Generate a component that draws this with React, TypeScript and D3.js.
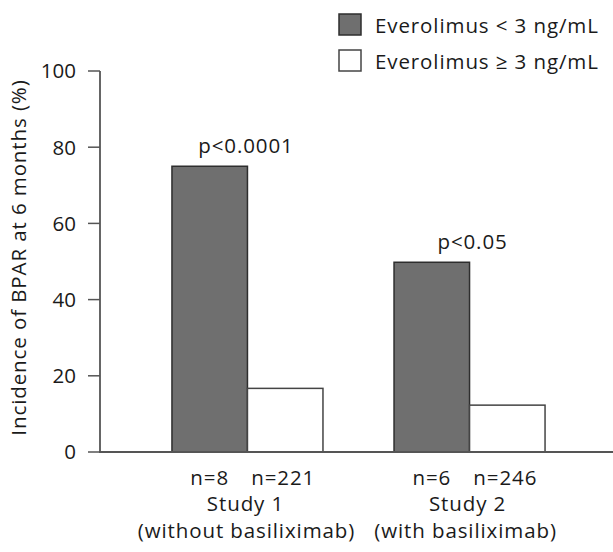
import React from "react";
import * as d3 from "d3";

const studies = ["Study 1", "Study 2"];
const studySub = ["(without basiliximab)", "(with basiliximab)"];
const seriesNames = ["Everolimus < 3 ng/mL", "Everolimus ≥ 3 ng/mL"];
const lowValues = [75, 49.8];
const highValues = [16.7, 12.3];
const nLow = ["n=8", "n=6"];
const nHigh = ["n=221", "n=246"];
const pLabels = ["p<0.0001", "p<0.05"];
const yTicks = [0, 20, 40, 60, 80, 100];

const W = 613;
const H = 552;
const FONT = "'Open Sans', sans-serif";
const FS = 20.5;
const LS = 0.9;
const colors = ["#6f6f6f", "#ffffff"];

export default function App() {
  const y = d3.scaleLinear().domain([0, 100]).range([452, 71]);
  const x0 = d3.scaleBand().domain(studies).range([100, 617]).paddingInner(0.32).paddingOuter(0.324);
  const x1 = d3.scaleBand().domain(["low", "high"]).range([0, x0.bandwidth()]);
  const series = [lowValues, highValues];
  const keys = ["low", "high"];
  const tp = { fontSize: FS, fill: "#1a1a1a", letterSpacing: LS, fontWeight: 500 } as const;

  return (
    <svg width={W} height={H} style={{ position: "absolute", left: 0, top: 0, background: "#fff" }} fontFamily={FONT}>
      {studies.map((s, i) =>
        keys.map((k, j) => {
          const v = series[j][i];
          return (
            <rect
              key={s + k}
              x={(x0(s) as number) + (x1(k) as number)}
              y={y(v)}
              width={x1.bandwidth()}
              height={y(0) - y(v)}
              fill={colors[j]}
              stroke={j === 0 ? "#2e2e2e" : "#444"}
              strokeWidth={1.5}
            />
          );
        })
      )}
      <line x1={100} x2={100} y1={y(100)} y2={y(0)} stroke="#555" strokeWidth={1.8} />
      <line x1={99} x2={613} y1={y(0)} y2={y(0)} stroke="#555" strokeWidth={1.8} />
      {yTicks.map((t) => (
        <g key={t}>
          <line x1={88} x2={100} y1={y(t)} y2={y(t)} stroke="#555" strokeWidth={1.5} />
          <text x={76} y={y(t)} dy="0.36em" textAnchor="end" {...tp} letterSpacing={0}>
            {t}
          </text>
        </g>
      ))}
      <text
        transform={`translate(21,${(y(0) + y(100)) / 2 - 4}) rotate(-90)`}
        textAnchor="middle"
        dominantBaseline="middle"
        {...tp}
      >
        Incidence of BPAR at 6 months (%)
      </text>
      {studies.map((s, i) => (
        <text
          key={"p" + s}
          x={(x0(s) as number) + (x1("low") as number) + x1.bandwidth() * (i === 0 ? 0.98 : 1.04)}
          y={y(lowValues[i]) - 13}
          textAnchor="middle"
          {...tp}
        >
          {pLabels[i]}
        </text>
      ))}
      {studies.map((s, i) => (
        <g key={"n" + s}>
          <text x={(x0(s) as number) + (x1("low") as number) + x1.bandwidth() / 2} y={485} textAnchor="middle" {...tp}>
            {nLow[i]}
          </text>
          <text x={(x0(s) as number) + (x1("high") as number) + x1.bandwidth() / 2 - 2} y={485} textAnchor="middle" {...tp}>
            {nHigh[i]}
          </text>
          <text x={(x0(s) as number) + x0.bandwidth() / 2 - 2} y={511} textAnchor="middle" {...tp}>
            {s}
          </text>
          <text x={(x0(s) as number) + x0.bandwidth() / 2 - (i === 0 ? 1 : 4)} y={538} textAnchor="middle" {...tp}>
            {studySub[i]}
          </text>
        </g>
      ))}
      {seriesNames.map((n, j) => (
        <g key={n} transform={`translate(339,${14 + j * 36})`}>
          <rect x={0} y={0} width={22} height={21} fill={colors[j]} stroke={j === 0 ? "#2e2e2e" : "#444"} strokeWidth={1.5} />
          <text x={36} y={19} {...tp}>
            {n}
          </text>
        </g>
      ))}
    </svg>
  );
}
